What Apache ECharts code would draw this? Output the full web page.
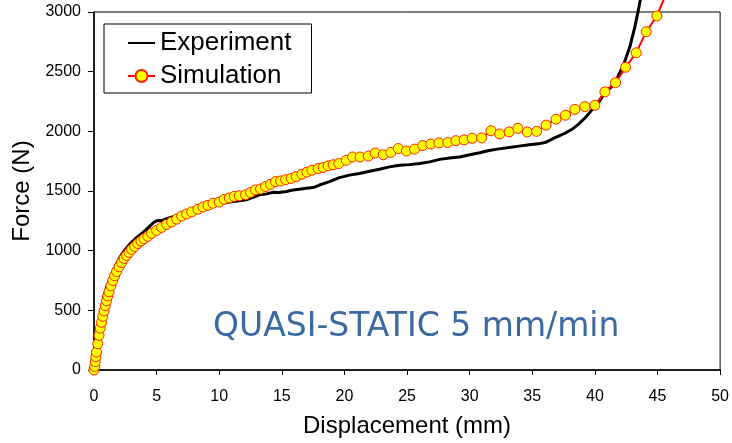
<!DOCTYPE html>
<html>
<head>
<meta charset="utf-8">
<script src="https://cdn.jsdelivr.net/npm/echarts@6/dist/echarts.min.js"></script>
<style>html,body{margin:0;padding:0;background:#fff}#c{width:732px;height:443px}</style>
</head>
<body>
<div id="c"></div>
<script>
var seriesNames = ['Experiment', 'Simulation'];
var xTicks = [0, 5, 10, 15, 20, 25, 30, 35, 40, 45, 50];
var yTicks = [0, 500, 1000, 1500, 2000, 2500, 3000];

var expX = [0,0.2,0.4,0.6,0.8,1.0,1.27,1.5,1.8,2.1,2.5,2.9,3.3,3.7,4.1,4.5,4.8,5.0,5.5,6.0,7.0,8.0,9.0,10.0,11.0,12.2,12.7,13.2,13.8,14.3,14.8,15.35,15.9,16.4,16.95,17.5,18.0,18.8,19.6,20.4,21.2,22.0,22.8,23.6,24.4,25.2,26.0,26.8,27.6,28.4,29.2,30.0,30.8,31.55,32.35,33.15,33.95,34.75,35.5,36.1,36.6,37.1,37.65,38.2,38.7,39.25,39.8,40.3,40.85,41.3,41.8,42.3,42.8,43.2,43.5,43.8];
var expY = [0,200,380,520,620,690,760,820,890,950,1010,1060,1100,1135,1170,1210,1240,1250,1255,1275,1305,1335,1365,1395,1410,1427,1446,1468,1476,1490,1488,1496,1509,1515,1523,1529,1550,1579,1612,1633,1647,1666,1683,1702,1716,1721,1730,1744,1765,1777,1785,1804,1821,1840,1853,1864,1876,1887,1895,1909,1936,1959,1986,2019,2060,2116,2184,2240,2335,2370,2450,2560,2710,2880,3030,3200];

var simX = [0,0.05,0.1,0.15,0.2,0.3,0.4,0.5,0.6,0.7,0.8,0.9,1.0,1.1,1.2,1.35,1.5,1.65,1.8,2.0,2.2,2.4,2.6,2.8,3.0,3.25,3.5,3.75,4.0,4.3,4.6,5.0,5.4,5.8,6.2,6.6,7.0,7.4,7.8,8.3,8.7,9.1,9.5,10.0,10.4,10.8,11.2,11.6,12.1,12.5,12.9,13.3,13.7,14.1,14.5,14.9,15.3,15.75,16.15,16.6,17.0,17.4,17.9,18.3,18.7,19.1,19.55,20.15,20.65,21.25,21.9,22.45,23.1,23.7,24.3,24.95,25.6,26.25,26.9,27.55,28.25,28.9,29.55,30.2,30.95,31.7,32.4,33.15,33.85,34.6,35.35,36.1,36.9,37.65,38.4,39.2,40.0,40.8,41.65,42.45,43.3,44.1,44.95,45.8];
var simY = [0,30,70,110,150,220,290,350,400,450,495,540,580,620,655,705,750,790,825,865,900,935,960,985,1010,1035,1060,1080,1100,1120,1145,1170,1195,1220,1240,1265,1290,1308,1325,1347,1366,1380,1397,1407,1430,1441,1455,1460,1468,1488,1509,1517,1537,1556,1579,1584,1595,1606,1620,1641,1658,1674,1688,1697,1711,1720,1730,1757,1785,1785,1793,1818,1804,1823,1856,1835,1851,1881,1893,1903,1906,1922,1928,1942,1945,2005,1978,1995,2025,1995,2000,2052,2102,2135,2184,2207,2218,2331,2408,2537,2658,2835,2967,3180];

var annotation = 'QUASI-STATIC 5 mm/min';

function pairs(xs, ys) { return xs.map(function (x, i) { return [x, ys[i]]; }); }

var chart = echarts.init(document.getElementById('c'), null, { renderer: 'canvas' });
var font = 'Liberation Sans, Arial, sans-serif';
chart.setOption({
  animation: false,
  backgroundColor: '#fff',
  grid: { left: 94, right: 10, top: 12, bottom: 69, show: true, borderColor: '#000', borderWidth: 1, backgroundColor: 'transparent' },
  legend: {
    orient: 'vertical', left: 104, top: 24,
    data: [
      { name: seriesNames[0], itemStyle: { opacity: 0 } },
      { name: seriesNames[1] }
    ],
    borderColor: '#000', borderWidth: 1, padding: [6, 20, 4, 23],
    itemGap: 7, itemWidth: 27, itemHeight: 15,
    textStyle: { fontFamily: font, fontSize: 26, color: '#000' }
  },
  xAxis: {
    type: 'value', min: xTicks[0], max: xTicks[xTicks.length - 1], interval: 5,
    name: 'Displacement (mm)', nameLocation: 'middle', nameGap: 56,
    nameTextStyle: { fontFamily: font, fontSize: 24, color: '#000', verticalAlign: 'middle' },
    axisLine: { onZero: false, lineStyle: { color: '#000', width: 1.5 } },
    axisTick: { length: 5, lineStyle: { color: '#000' } },
    axisLabel: { margin: 19, fontFamily: font, fontSize: 16, color: '#000' },
    splitLine: { show: false }
  },
  yAxis: {
    type: 'value', min: yTicks[0], max: yTicks[yTicks.length - 1], interval: 500,
    name: 'Force (N)', nameLocation: 'middle', nameGap: 69,
    nameTextStyle: { fontFamily: font, fontSize: 24, color: '#000', verticalAlign: 'middle' },
    axisLine: { show: true, onZero: false, lineStyle: { color: '#000', width: 1.5 } },
    axisTick: { show: true, length: 6, lineStyle: { color: '#000' } },
    axisLabel: { margin: 13, fontFamily: font, fontSize: 16, color: '#000', formatter: function (v) { return String(v); } },
    splitLine: { show: false }
  },
  series: [
    {
      name: seriesNames[0], type: 'line', data: pairs(expX, expY),
      showSymbol: false, symbol: 'none', clip: false,
      lineStyle: { color: '#000', width: 3 }, itemStyle: { color: '#000' }
    },
    {
      name: seriesNames[1], type: 'line', data: pairs(simX, simY),
      symbol: 'circle', symbolSize: 10, showSymbol: true, showAllSymbol: true, clip: false,
      lineStyle: { color: '#ff0000', width: 2 },
      itemStyle: { color: '#ffff00', borderColor: '#ff2000', borderWidth: 1 }
    }
  ],
  graphic: [{
    type: 'text', left: 213, top: 311,
    style: { text: annotation, font: '33px "DejaVu Sans", Verdana, sans-serif', fill: '#3a6aa0' }
  }]
});
</script>
</body>
</html>
